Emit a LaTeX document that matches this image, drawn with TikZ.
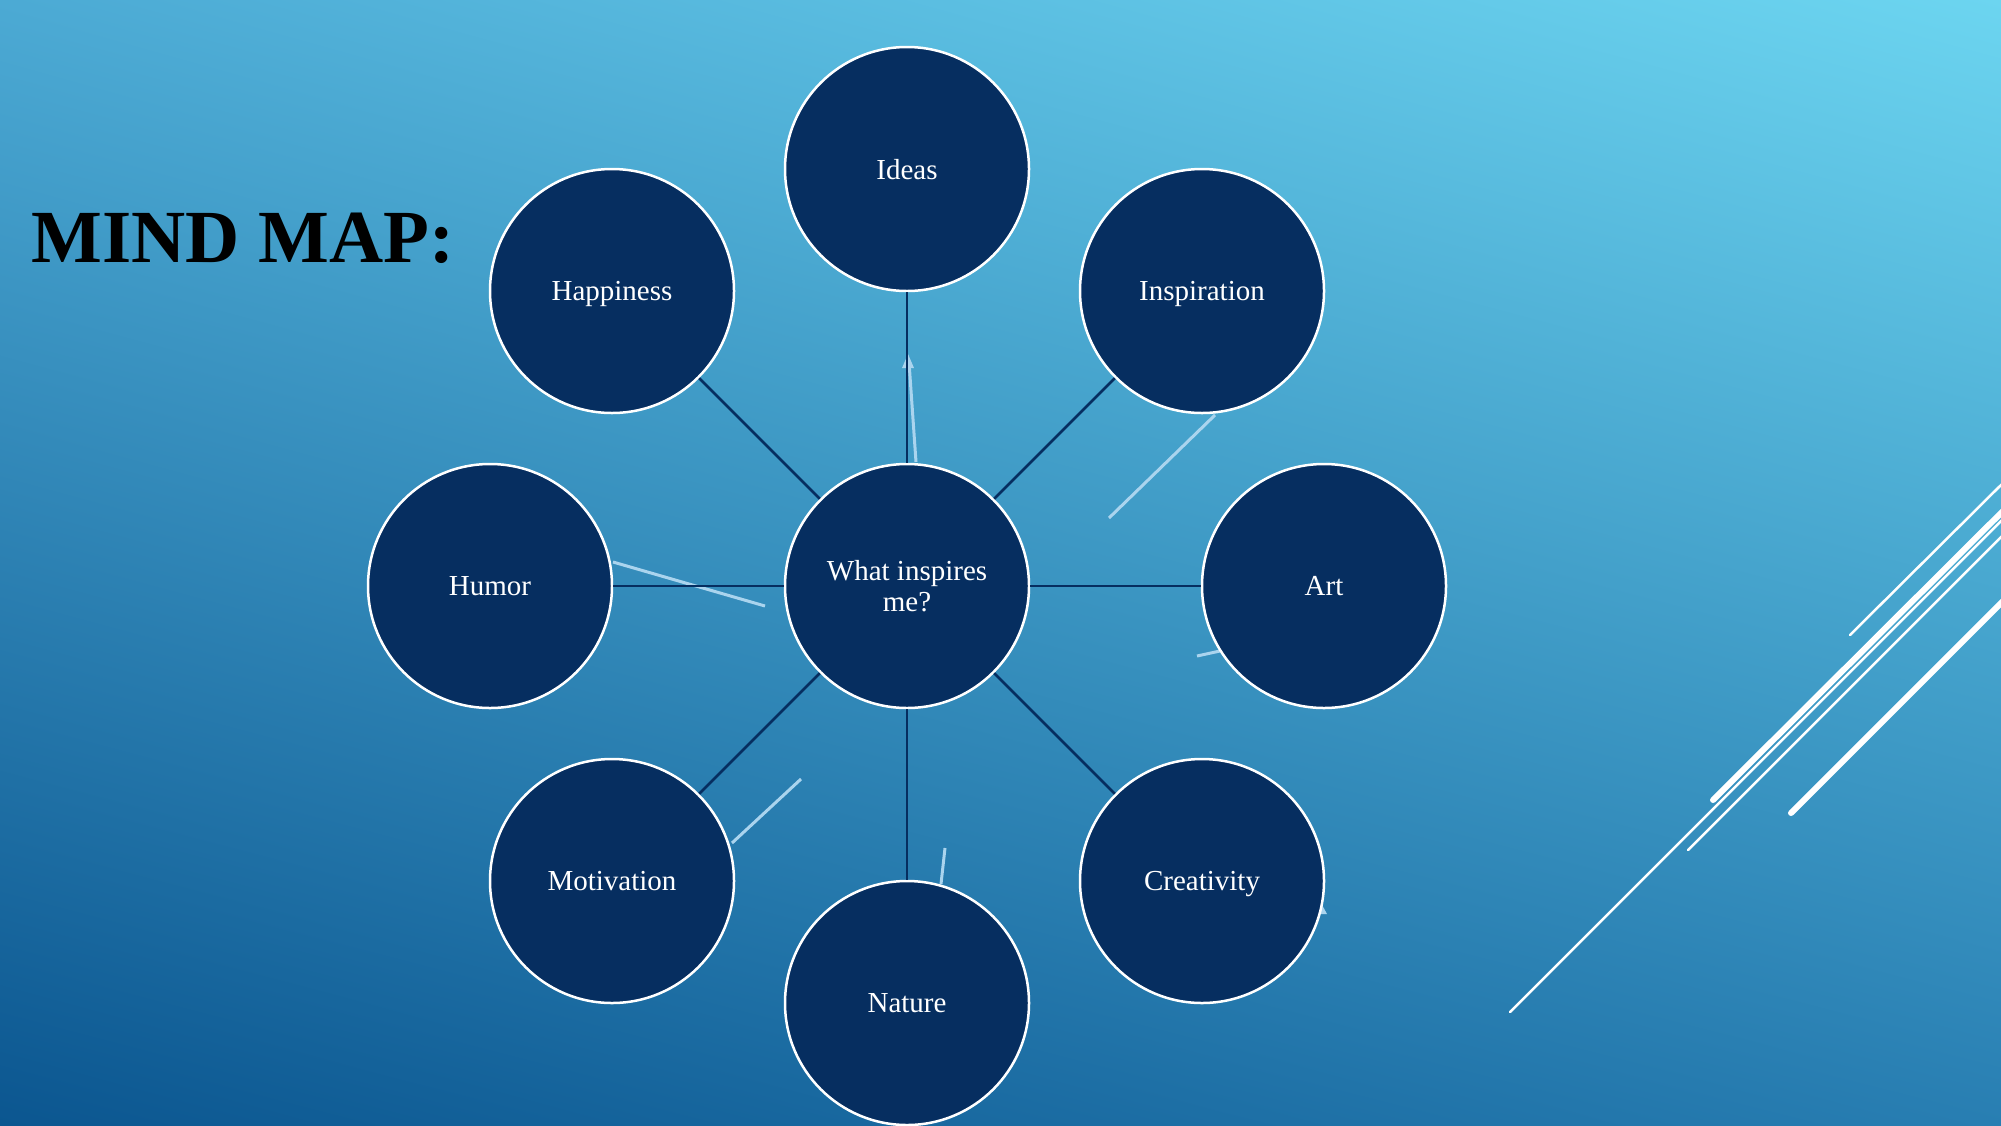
\documentclass[tikz,border=0pt]{standalone}
\usepackage{fontspec}
\setmainfont{Liberation Serif}
\usetikzlibrary{shadings}
\definecolor{navy}{RGB}{6,46,96}
\definecolor{bgTL}{RGB}{76,170,212}
\definecolor{bgTR}{RGB}{108,213,240}
\definecolor{bgBL}{RGB}{11,86,144}
\definecolor{bgBR}{RGB}{40,126,178}
\definecolor{faint}{RGB}{170,212,238}
\tikzset{
  bubble/.style={circle, fill=navy, draw=white, line width=2.5pt, minimum size=244pt, inner sep=0pt,
    text=white, font=\fontsize{29}{31}\selectfont, align=center},
  leaf/.style={bubble, text depth=0pt},
  link/.style={draw=navy, line width=2.6pt},
  ghost/.style={draw=faint, line width=3pt},
  deco/.style={draw=white, line cap=round},
}
\begin{document}
\begin{tikzpicture}[x=1pt,y=-1pt]
\useasboundingbox (0,0) rectangle (2001,1125);
\shade[upper left=bgTL, upper right=bgTR, lower left=bgBL, lower right=bgBR] (0,0) rectangle (2001,1125);

% decorative lines at right
\draw[deco, line width=2.5pt] (1850,635) -- (2003,483);
\draw[deco, line width=6pt] (1713,800) -- (2004,510);
\draw[deco, line width=2.5pt] (1510,1012) -- (2003,519);
\draw[deco, line width=2.5pt] (1688,850) -- (2003,535);
\draw[deco, line width=6pt] (1791,813) -- (2004,600);

% title
\node[anchor=base west, inner sep=0pt, font=\bfseries\fontsize{75}{80}\selectfont, text=black] (title) at (31,262) {MIND MAP:};

% faint leftover lines
\coordinate (g1a) at (916,462); \coordinate (g1b) at (909,362);
\draw[ghost] (g1a) -- (g1b);
\fill[faint] (908,354) -- (914,368) -- (902,368) -- cycle;
\coordinate (g2a) at (1215,415); \coordinate (g2b) at (1109,518);
\draw[ghost] (g2a) -- (g2b);
\coordinate (g3a) at (1197,656); \coordinate (g3b) at (1220,651);
\draw[ghost] (g3a) -- (g3b);
\coordinate (g4a) at (613,562); \coordinate (g4b) at (765,606);
\draw[ghost] (g4a) -- (g4b);
\coordinate (g5a) at (732,843); \coordinate (g5b) at (801,779);
\draw[ghost] (g5a) -- (g5b);
\coordinate (g6a) at (941,884); \coordinate (g6b) at (945,848);
\draw[ghost] (g6a) -- (g6b);
\fill[faint] (1321,903) -- (1327,914) -- (1318,914) -- cycle;

% nodes
\node[bubble] (c) at (907,586) {What inspires\\me?};
\node[leaf] (ideas) at (907,169) {Ideas};
\node[leaf] (insp) at (1202,291) {Inspiration};
\node[leaf] (art) at (1324,586) {Art};
\node[leaf] (crea) at (1202,881) {Creativity};
\node[leaf] (nat) at (907,1003) {Nature};
\node[leaf] (mot) at (612,881) {Motivation};
\node[leaf] (hum) at (490,586) {Humor};
\node[leaf] (hap) at (612,291) {Happiness};

% connectors
\foreach \n in {ideas,insp,art,crea,nat,mot,hum,hap}
  \draw[link] (c) -- (\n);
\end{tikzpicture}
\end{document}
